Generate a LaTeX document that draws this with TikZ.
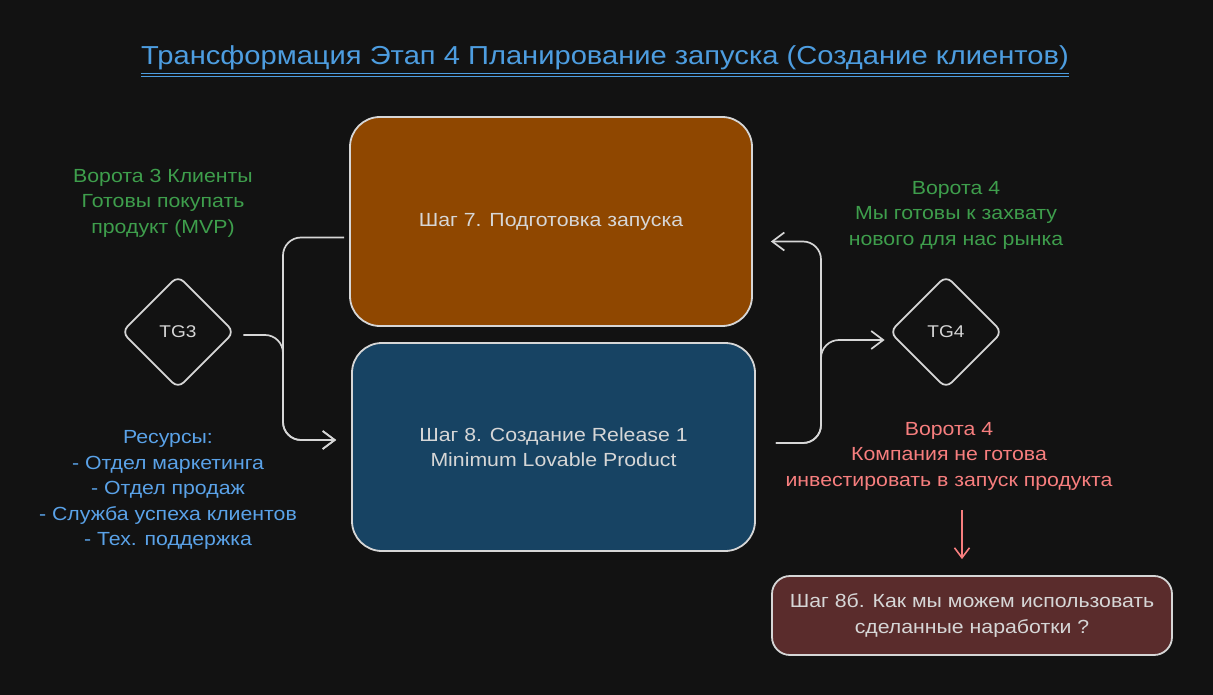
\documentclass[tikz,border=0pt]{standalone}
\usepackage{fontspec}
\setmainfont{Liberation Sans}[FakeStretch=1.12]
\usetikzlibrary{arrows.meta, shapes.geometric, positioning}
\definecolor{bgdark}{HTML}{121212}
\definecolor{edge}{HTML}{D6D6D6}
\definecolor{titleblue}{HTML}{4D9DE0}
\definecolor{resblue}{HTML}{5AA2E8}
\definecolor{gategreen}{HTML}{3E9E4C}
\definecolor{nogored}{HTML}{F77E7E}
\definecolor{prepfill}{HTML}{8F4700}
\definecolor{mlpfill}{HTML}{174363}
\definecolor{reusefill}{HTML}{5A2C2C}
\newcommand\ttlfont{\fontsize{26}{30}\selectfont}
\newcommand\lblfont{\fontsize{19}{25.5}\selectfont}
\newcommand\tgfont{\fontsize{17}{19}\selectfont}

\begin{document}
\begin{tikzpicture}[x=1pt, y=-1pt,
	box/.style={draw=edge, line width=1.8pt, rounded corners=30pt, text=edge, font=\lblfont, align=center, inner sep=0pt},
	gate/.style={diamond, draw=edge, line width=1.8pt, rounded corners=8pt, minimum width=113pt, minimum height=113pt, inner sep=0pt, text=edge, font=\tgfont},
	note/.style={align=center, font=\lblfont, inner sep=0pt},
	conn/.style={draw=edge, line width=1.7pt, rounded corners=18pt, -{Straight Barb[length=12pt, width=18pt, line width=1.7pt]}},
	redarr/.style={draw=nogored, line width=1.6pt, -{Straight Barb[length=10pt, width=15pt, line width=1.6pt]}}]
	\fill[bgdark] (0,0) rectangle (1213,695);
	\useasboundingbox (0,0) rectangle (1213,695);
	\node[font=\ttlfont, text=titleblue, inner sep=0pt] (title) at (605,58) {Трансформация Этап 4 Планирование запуска (Создание клиентов)};
	\draw[titleblue, line width=1.3pt] ([yshift=-9pt]title.base west) -- ([yshift=-9pt]title.base east);
	\draw[titleblue, line width=1.3pt] ([yshift=-11.5pt]title.base west) -- ([yshift=-11.5pt]title.base east);
	\node[box, fill=prepfill, minimum width=402pt, minimum height=209pt] (box7) at (551,221.5) {Шаг 7. Подготовка запуска};
	\node[box, fill=mlpfill, minimum width=403pt, minimum height=208pt] (box8) at (553.5,447) {Шаг 8. Создание Release 1\\Minimum Lovable Product};
	\node[box, fill=reusefill, rounded corners=18pt, minimum width=400pt, minimum height=79pt] (box8b) at (972,615.5) {Шаг 8б. Как мы можем использовать\\сделанные наработки ?};
	\node[gate] (tg3) at (178,332) {TG3};
	\node[gate] (tg4) at (946,332) {TG4};
	\node[note, text=gategreen] (gate3) at (163,203) {Ворота 3 Клиенты\\Готовы покупать\\продукт (MVP)};
	\node[note, text=gategreen] (gate4) at (956,215) {Ворота 4\\Мы готовы к захвату\\нового для нас рынка};
	\node[note, text=resblue] (res) at (168,490) {Ресурсы:\\- Отдел маркетинга\\- Отдел продаж\\- Служба успеха клиентов\\- Тех. поддержка};
	\node[note, text=nogored] (nogo) at (949,456) {Ворота 4\\Компания не готова\\инвестировать в запуск продукта};
	\coordinate (redtop) at (962,510);
	\draw[conn] ([xshift=-5pt,yshift=-16pt]box7.west) -| (283,400) |- ([xshift=-15pt,yshift=7pt]box8.west);
	\draw[conn] ([xshift=8pt,yshift=-3pt]tg3.east) -| (283,400) |- ([xshift=-15pt,yshift=7pt]box8.west);
	\draw[conn] ([xshift=20pt,yshift=4pt]box8.east) -| (821,400) |- ([xshift=18pt,yshift=-20pt]box7.east);
	\draw[conn] ([xshift=20pt,yshift=4pt]box8.east) -| (821,400) |- ([xshift=-4pt,yshift=-8pt]tg4.west);
	\draw[redarr] (redtop) -- ([xshift=-10pt,yshift=16pt]box8b.north);
\end{tikzpicture}
\end{document}
